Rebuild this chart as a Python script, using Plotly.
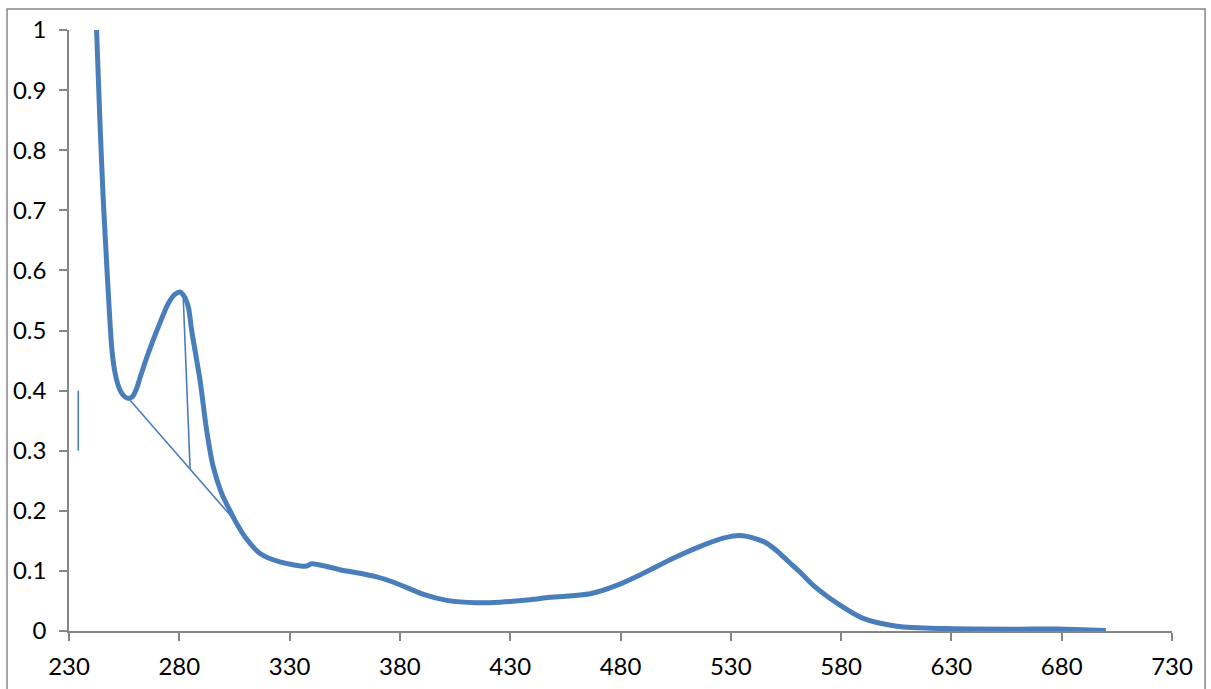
import plotly.graph_objects as go

# Absorbance spectrum
wavelength = [242.5, 244.0, 245.5, 246.8, 248.0, 249.4, 250.6, 252.0, 253.5, 255.2,
              257.0, 258.8, 260.5, 262.5, 265.9, 270.5, 275.0, 278.0, 280.3, 282.0,
              284.1, 285.6, 289.4, 292.4, 295.4, 299.2, 303.7, 306.0, 310.5, 316.6,
              325.6, 337.7, 340.0, 352.8, 369.5, 378.6, 390.7, 401.3, 414.8, 425.4,
              439.0, 448.0, 466.2, 478.3, 490.3, 503.9, 519.0, 527.0, 534.2, 540.0,
              546.3, 551.0, 556.0, 561.4, 567.4, 579.5, 590.0, 605.2, 627.9, 658.0,
              677.7, 700.0]
absorbance = [1.00, 0.85, 0.72, 0.63, 0.55, 0.47, 0.435, 0.412, 0.398, 0.390,
              0.387, 0.390, 0.402, 0.425, 0.462, 0.506, 0.545, 0.560, 0.564, 0.558,
              0.539, 0.500, 0.417, 0.334, 0.273, 0.229, 0.195, 0.179, 0.153, 0.129,
              0.115, 0.108, 0.112, 0.102, 0.090, 0.079, 0.061, 0.051, 0.047, 0.048,
              0.052, 0.056, 0.062, 0.076, 0.096, 0.121, 0.145, 0.155, 0.159, 0.155,
              0.146, 0.133, 0.116, 0.098, 0.076, 0.043, 0.021, 0.008, 0.004, 0.003,
              0.0035, 0.001]

# Baseline (tangent) and peak-height construction lines
tangent_x = [257.7, 303.7]
tangent_y = [0.384, 0.190]
drop_x = [281.8, 284.9]
drop_y = [0.553, 0.270]
scale_bar_x = [234.2, 234.2]
scale_bar_y = [0.30, 0.40]

x_ticks = list(range(230, 731, 50))
y_ticks = [round(i * 0.1, 1) for i in range(11)]

BLUE = "#4A7EBB"
GREY = "#868686"

fig = go.Figure()
fig.add_trace(go.Scatter(x=wavelength, y=absorbance, mode="lines",
                         line=dict(color=BLUE, width=5, shape="spline", smoothing=0.8),
                         showlegend=False, hoverinfo="skip"))
for xs, ys in [(tangent_x, tangent_y), (drop_x, drop_y), (scale_bar_x, scale_bar_y)]:
    fig.add_trace(go.Scatter(x=xs, y=ys, mode="lines",
                             line=dict(color=BLUE, width=1.6),
                             showlegend=False, hoverinfo="skip"))

fig.update_layout(
    width=1211, height=689,
    margin=dict(l=69, r=39, t=30, b=58),
    paper_bgcolor="white", plot_bgcolor="white",
    font=dict(family="Lato, Carlito, Calibri, sans-serif", size=24, color="black"),
    xaxis=dict(range=[230, 730], tickmode="array", tickvals=x_ticks,
               ticktext=[str(v) for v in x_ticks], automargin=False,
               showgrid=False, zeroline=False, showline=True, linecolor=GREY,
               linewidth=1.5, ticks="outside", ticklen=8, tickcolor=GREY,
               tickwidth=1.5, ticklabelstandoff=5),
    yaxis=dict(range=[0, 1], tickmode="array", tickvals=y_ticks,
               ticktext=[("%g" % v) for v in y_ticks], automargin=False,
               showgrid=False, zeroline=False, showline=True, linecolor=GREY,
               linewidth=1.5, ticks="outside", ticklen=8, tickcolor=GREY,
               tickwidth=1.5, ticklabelstandoff=8),
    shapes=[dict(type="rect", xref="paper", yref="paper",
                 x0=-0.0562, x1=1.03, y0=-0.2, y1=1.035,
                 line=dict(color=GREY, width=1.5), layer="below")],
)

fig.write_html("out.html", config={"displayModeBar": False},
               post_script="document.body.style.margin='0';document.body.style.overflow='hidden';")
